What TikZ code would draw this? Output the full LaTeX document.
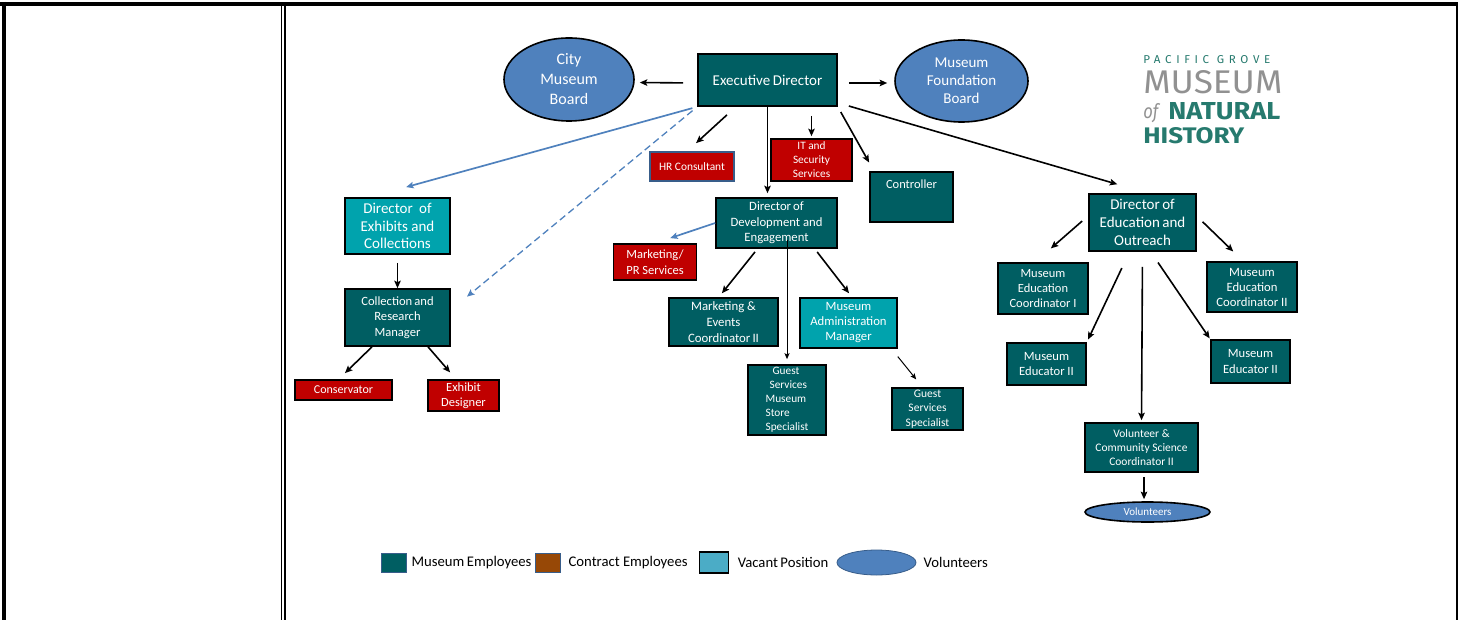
\documentclass[tikz,border=0pt]{standalone}
\usepackage{fontspec}
\setmainfont{Carlito}
\newfontfamily\logofont{Fira Sans}
\newfontfamily\logospaced{Fira Sans}[LetterSpace=40]
\usetikzlibrary{positioning, arrows.meta, shapes.geometric, calc}

\definecolor{empteal}{RGB}{0,94,98}
\definecolor{vacteal}{RGB}{0,163,173}
\definecolor{conred}{RGB}{192,0,0}
\definecolor{volblue}{RGB}{79,129,189}
\definecolor{edgeblue}{RGB}{56,93,138}
\definecolor{legbrown}{RGB}{151,72,6}
\definecolor{legvac}{RGB}{75,172,198}
\definecolor{logoteal}{RGB}{38,122,110}
\definecolor{logogray}{RGB}{145,145,145}

\begin{document}
\begin{tikzpicture}[x=1pt,y=-1pt,->,>={Stealth[length=7.5pt,width=6.5pt,inset=1.5pt]},semithick]
\tikzstyle{post}=[draw=black,line width=1.6pt,text=white,align=center,inner sep=1pt]
\tikzstyle{emp}=[post,fill=empteal]
\tikzstyle{vac}=[post,fill=vacteal]
\tikzstyle{con}=[post,fill=conred]
\tikzstyle{board}=[ellipse,draw=black,line width=1.6pt,fill=volblue,text=white,align=center,inner sep=0pt]
\tikzstyle{key}=[rectangle,inner sep=0pt,minimum width=25pt,minimum height=19pt]
\tikzstyle{keytext}=[inner sep=0pt,text=black,font=\fontsize{14.7}{17}\selectfont]
\tikzstyle{link}=[line width=1.6pt]
\tikzstyle{thin link}=[line width=1pt,>={Stealth[length=6pt,width=5pt,inset=1.2pt]}]
\tikzstyle{blue link}=[draw=volblue,line width=1.7pt]

\useasboundingbox (0,0) rectangle (1458,620);

% frame of the page
\draw[-,line width=4pt] (0,4) -- (1458,4);
\draw[-,line width=4pt] (4,2) -- (4,620);
\draw[-,line width=1.4pt] (281.3,6) -- (281.3,620);
\draw[-,line width=1.4pt] (285,6) -- (285,620);
\draw[-,line width=2pt] (1456.5,6) -- (1456.5,620);

% top
\node[emp,minimum width=139pt,minimum height=52pt,font=\fontsize{15}{18}\selectfont] (ed) at (767.5,80) {Executive\,Director};
\node[board,minimum width=130pt,minimum height=83pt,font=\fontsize{16}{20}\selectfont] (city) at (569,79.5) {City\\Museum\\Board};
\node[board,minimum width=133pt,minimum height=82pt,font=\fontsize{15}{18}\selectfont] (found) at (961.5,81) {Museum\\Foundation\\Board};
\node[con,draw=edgeblue,minimum width=84pt,minimum height=29pt,font=\fontsize{11.4}{14}\selectfont] (hr) at (692,166.5) {HR Consultant};
\node[con,minimum width=81pt,minimum height=42pt,font=\fontsize{11.3}{14}\selectfont] (it) at (811.5,160) {IT and\\Security\\Services};
\node[emp,minimum width=83pt,minimum height=50pt,font=\fontsize{12.5}{15}\selectfont] (ctrl) at (911.5,197) {Controller\\[10pt]\mbox{}};

% development
\node[emp,minimum width=121pt,minimum height=50pt,font=\fontsize{12.7}{15.5}\selectfont] (dirdev) at (776.5,223) {Director\,of\\Development and\\Engagement};
\node[con,minimum width=83pt,minimum height=36pt,font=\fontsize{12.5}{16}\selectfont] (mpr) at (655,262) {Marketing/\\PR Services};
\node[emp,minimum width=109pt,minimum height=48pt,font=\fontsize{12.8}{15.7}\selectfont] (mec) at (723.5,322) {Marketing \&\\Events\\Coordinator\,II};
\node[vac,minimum width=97pt,minimum height=50pt,font=\fontsize{12.7}{15}\selectfont] (mam) at (848.5,323) {Museum\\Administration\\Manager};
\node[emp,align=left,minimum width=78pt,minimum height=70pt,font=\fontsize{11.3}{14}\selectfont] (gsms) at (787,400) {\hspace{7pt}Guest\\\hspace{4pt}Services\\Museum\\Store\\Specialist};
\node[emp,minimum width=71pt,minimum height=42pt,font=\fontsize{11.5}{14.5}\selectfont] (gss) at (927.5,409) {Guest\\Services\\Specialist};

% exhibits
\node[vac,minimum width=105pt,minimum height=56pt,font=\fontsize{15}{17.5}\selectfont] (direx) at (397.5,226) {Director\hspace{3pt} of\\Exhibits and\\Collections};
\node[emp,minimum width=105pt,minimum height=57pt,font=\fontsize{12.6}{15.5}\selectfont] (crm) at (397.5,317.5) {Collection\,and\\Research\\Manager};
\node[con,minimum width=97pt,minimum height=20pt,font=\fontsize{12}{14}\selectfont] (cons) at (343.5,390) {Conservator};
\node[con,minimum width=71pt,minimum height=31pt,font=\fontsize{12.5}{15}\selectfont] (exd) at (463.5,395.5) {Exhibit\\Designer};

% education
\node[emp,minimum width=107pt,minimum height=57pt,font=\fontsize{15}{18}\selectfont] (dired) at (1142.5,222.5) {Director\,of\\Education\,and\\Outreach};
\node[emp,minimum width=90pt,minimum height=51pt,font=\fontsize{12.5}{15.3}\selectfont] (mec1) at (1043,288.5) {Museum\\Education\\Coordinator I};
\node[emp,minimum width=90pt,minimum height=50pt,font=\fontsize{12.7}{15}\selectfont] (mec2) at (1252,287) {Museum\\Education\\Coordinator II};
\node[emp,minimum width=79pt,minimum height=42pt,font=\fontsize{12.6}{15.5}\selectfont] (me2l) at (1046.5,364) {Museum\\Educator II};
\node[emp,minimum width=79pt,minimum height=43pt,font=\fontsize{12.6}{15.5}\selectfont] (me2r) at (1250.5,361.5) {Museum\\Educator II};
\node[emp,minimum width=113pt,minimum height=49pt,font=\fontsize{11.5}{14}\selectfont] (vcsc) at (1141.5,447.5) {Volunteer \&\\Community Science\\Coordinator II};
\node[board,minimum width=125pt,minimum height=20pt,font=\fontsize{11}{13}\selectfont] (vols) at (1147.5,512) {Volunteers};

% logo
\node[anchor=north west,inner sep=0pt,text=logoteal] (pg) at (1143,55) {\resizebox{127pt}{8pt}{\logospaced PACIFIC GROVE}};
\node[anchor=north west,inner sep=0pt,text=logogray] (mus) at (1143,70) {\resizebox{139pt}{23pt}{\logofont MUSEUM}};
\node[anchor=north west,inner sep=0pt,text=logogray] (of) at (1143,103) {\resizebox{15pt}{15pt}{\logofont\itshape of}};
\node[anchor=north west,inner sep=0pt,text=logoteal] (nat) at (1168,102) {\resizebox{112pt}{17pt}{\logofont\bfseries NATURAL}};
\node[anchor=north west,inner sep=0pt,text=logoteal] (hist) at (1143,127) {\resizebox{101pt}{16pt}{\logofont\bfseries HISTORY}};

% legend
\node[key,fill=empteal,draw=edgeblue,line width=0.6pt] (legemp) at (393.5,562.5) {};
\node[keytext,right=5pt of legemp] (legemptext) {Museum\,Employees};
\node[key,fill=legbrown,draw=edgeblue,line width=0.6pt,right=3pt of legemptext] (legcon) {};
\node[keytext,right=8pt of legcon] (legcontext) {Contract Employees};
\node[key,fill=legvac,draw=black,line width=1.6pt,minimum width=29pt,minimum height=21pt,right=11pt of legcontext] (legvac) {};
\node[keytext,right=8pt of legvac] (legvactext) {Vacant\,Position};
\node[ellipse,fill=volblue,draw=edgeblue,line width=0.8pt,minimum width=79pt,minimum height=25pt,right=8pt of legvactext] (legvol) {};
\node[keytext,right=7pt of legvol] (legvoltext) {Volunteers};

\path
([yshift=-3pt]ed.west) edge[link, shorten <=14pt, shorten >=5pt] ([yshift=-3pt]city.east)
([yshift=-3pt]ed.east) edge[link, shorten <=11pt, shorten >=7pt] ([yshift=-2pt]found.west)
([xshift=-31.7pt]ed.south) edge[link, shorten <=12pt, shorten >=12pt] ([xshift=-4.8pt]hr.north)
(ed.south -| it.north) edge[link, shorten <=9pt, shorten >=2pt] (it.north)
(ed.south east) edge[link, shorten <=6pt, shorten >=10pt] ([xshift=-37.5pt]ctrl.north)
([yshift=-22.8pt]ed.east) edge[link, shorten <=11.5pt, shorten >=32pt] ([xshift=5.5pt]dired.north)
(ed.south) edge[link, shorten >=4pt] (ed.south |- dirdev.north)
(ed.south west) edge[blue link, shorten <=5pt, shorten >=38pt] ([xshift=-28pt]direx.north)
(ed.south west) edge[blue link, line width=1.3pt, dash pattern=on 7pt off 4pt, shorten <=6pt, shorten >=21pt] ([yshift=7.5pt]crm.east)
(direx.south) edge[link, shorten <=8pt] (crm.north)
([xshift=-25.5pt]crm.south) edge[link, shorten >=8.7pt] ([xshift=-4.8pt]cons.north)
([xshift=30.5pt]crm.south) edge[link, shorten >=9pt] ([xshift=-7.5pt]exd.north)
(dirdev.west) edge[blue link, shorten >=16pt] (mpr.north)
([xshift=-19pt]dirdev.south) edge[link, shorten <=4pt, shorten >=5pt] ([xshift=-4.7pt]mec.north)
([xshift=38.2pt]dirdev.south) edge[link, shorten <=4pt, shorten >=5pt] ([xshift=3.6pt]mam.north)
($(dirdev.south -| gsms.north)+(0,-9)$) edge[thin link, shorten >=5pt] (gsms.north)
([xshift=43pt]mam.south) edge[thin link, shorten <=10pt, shorten >=10pt] ([xshift=-5pt]gss.north)
([yshift=6.7pt]dired.west) edge[link, shorten <=8pt, shorten >=21pt] ([xshift=-8pt]mec1.north)
([yshift=6.3pt]dired.east) edge[link, shorten <=8pt, shorten >=14pt] ([xshift=-8.7pt]mec2.north)
([xshift=-13pt]dired.south) edge[link, shorten <=18pt, shorten >=3pt] (me2l.north east)
(dired.south) edge[link, shorten <=15pt, shorten >=2pt] (vcsc.north)
([xshift=8.2pt]dired.south) edge[link, shorten <=13pt, shorten >=1pt] (me2r.north west)
([xshift=2.5pt]vcsc.south) edge[link, shorten <=4pt, shorten >=2pt] ([xshift=-3.5pt]vols.north);
\end{tikzpicture}
\end{document}
